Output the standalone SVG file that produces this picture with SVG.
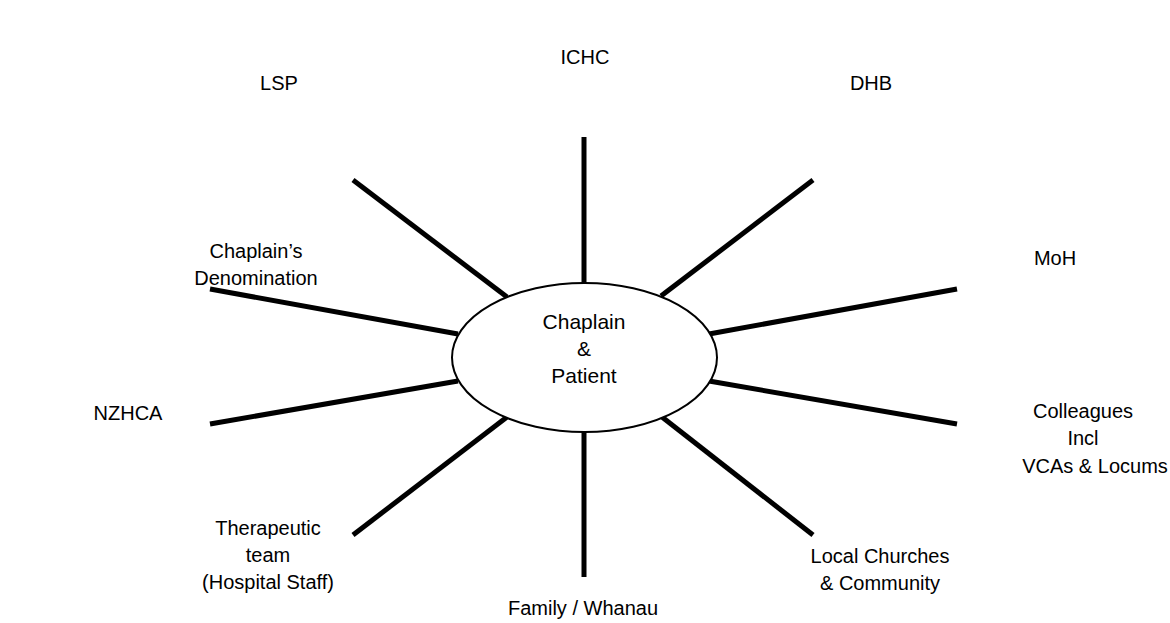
<svg xmlns="http://www.w3.org/2000/svg" width="1170" height="623" viewBox="0 0 1170 623">
<style>
.lbl{font-family:"Liberation Sans",Arial,sans-serif;font-size:20px;fill:#000;text-anchor:middle}
.ctr{font-family:"Liberation Sans",Arial,sans-serif;font-size:21px;fill:#000;text-anchor:middle}
.spoke{stroke:#000;stroke-width:5;fill:none}
</style>
<rect width="1170" height="623" fill="#fff"/>
<g id="connectors">
<line class="spoke" x1="584" y1="137" x2="584" y2="283"/>
<line class="spoke" x1="353" y1="180" x2="507" y2="297"/>
<line class="spoke" x1="813" y1="180" x2="661" y2="296"/>
<line class="spoke" x1="210" y1="289" x2="458" y2="334"/>
<line class="spoke" x1="210" y1="424" x2="458" y2="381"/>
<line class="spoke" x1="709" y1="334" x2="957" y2="289"/>
<line class="spoke" x1="709" y1="381" x2="957" y2="424"/>
<line class="spoke" x1="507" y1="417" x2="353" y2="535"/>
<line class="spoke" x1="584" y1="432" x2="584" y2="577"/>
<line class="spoke" x1="662" y1="417" x2="813" y2="535"/>
</g>
<g id="center">
<ellipse cx="584.5" cy="357.5" rx="132.5" ry="74.5" fill="#fff" stroke="#000" stroke-width="2"/>
<text class="ctr" x="584" y="329">Chaplain</text>
<text class="ctr" x="584" y="356">&amp;</text>
<text class="ctr" x="584" y="383">Patient</text>
</g>
<g id="ichc"><text class="lbl" x="585" y="64">ICHC</text></g>
<g id="lsp"><text class="lbl" x="279" y="90">LSP</text></g>
<g id="dhb"><text class="lbl" x="871" y="90">DHB</text></g>
<g id="denomination"><text class="lbl" x="256" y="258">Chaplain’s</text><text class="lbl" x="256" y="285">Denomination</text></g>
<g id="moh"><text class="lbl" x="1055" y="265">MoH</text></g>
<g id="nzhca"><text class="lbl" x="128" y="420">NZHCA</text></g>
<g id="colleagues"><text class="lbl" x="1083" y="418">Colleagues</text><text class="lbl" x="1083" y="445">Incl</text><text class="lbl" x="1095" y="473">VCAs &amp; Locums</text></g>
<g id="therapeutic"><text class="lbl" x="268" y="535">Therapeutic</text><text class="lbl" x="268" y="562">team</text><text class="lbl" x="268" y="589">(Hospital Staff)</text></g>
<g id="family"><text class="lbl" x="583" y="615">Family / Whanau</text></g>
<g id="churches"><text class="lbl" x="880" y="563">Local Churches</text><text class="lbl" x="880" y="590">&amp; Community</text></g>
</svg>
